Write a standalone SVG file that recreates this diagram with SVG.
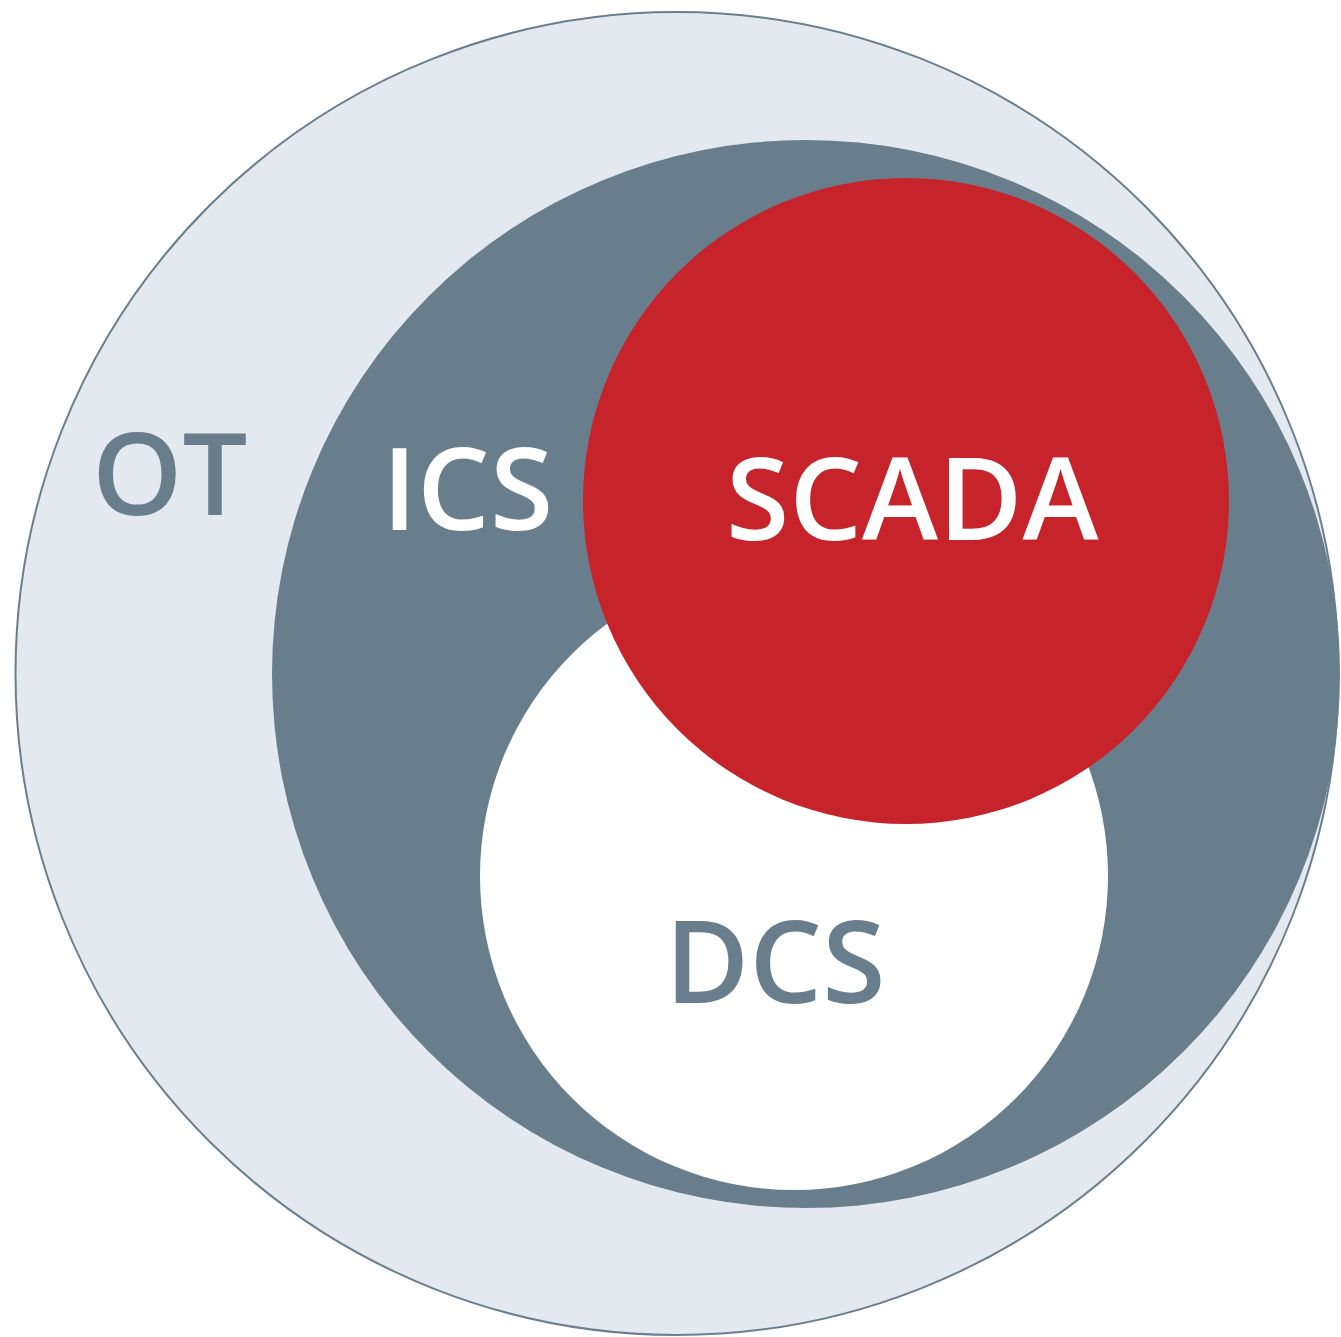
<svg xmlns="http://www.w3.org/2000/svg" width="1341" height="1337" viewBox="0 0 1341 1337">
<style>
.lbl{font-family:"Open Sans","Noto Sans","Liberation Sans",sans-serif;font-weight:600;font-size:115px}
.dark{fill:#687e8d}
.light{fill:#ffffff}
</style>
<rect width="1341" height="1337" fill="#ffffff"/>
<g id="ot">
<circle cx="677" cy="673.5" r="661.5" fill="#e4e9f0" stroke="#6a7f8e" stroke-width="2"/>
<text class="lbl dark" x="92" y="515">OT</text>
</g>
<g id="ics">
<circle cx="806" cy="674" r="534" fill="#687e8d"/>
<text class="lbl light" x="382" y="530">ICS</text>
</g>
<g id="dcs">
<circle cx="794" cy="876" r="314" fill="#ffffff"/>
<text class="lbl dark" x="665" y="1003">DCS</text>
</g>
<g id="scada">
<circle cx="906" cy="501" r="323" fill="#c6232a"/>
<text class="lbl light" x="726" y="540">SCADA</text>
</g>
<g id="connectors"></g>
</svg>
